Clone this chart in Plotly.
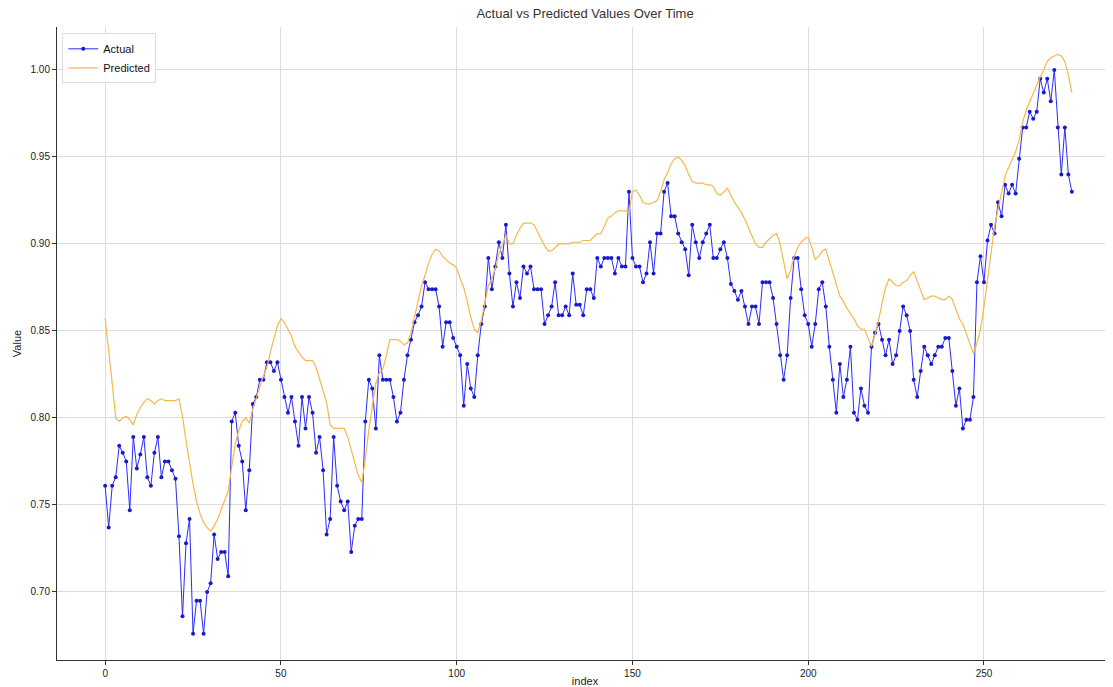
import plotly.graph_objects as go

index = list(range(276))

actual = [
    0.761, 0.737, 0.761, 0.766, 0.784, 0.780, 0.775, 0.747, 0.789, 0.771,
    0.779, 0.789, 0.766, 0.761, 0.780, 0.789, 0.766, 0.775, 0.775, 0.770,
    0.765, 0.732, 0.686, 0.728, 0.742, 0.676, 0.695, 0.695, 0.676, 0.700,
    0.705, 0.733, 0.719, 0.723, 0.723, 0.709, 0.798, 0.803, 0.784, 0.775,
    0.747, 0.770, 0.808, 0.812, 0.822, 0.822, 0.832, 0.832, 0.827, 0.832,
    0.822, 0.812, 0.803, 0.812, 0.798, 0.784, 0.812, 0.794, 0.812, 0.803,
    0.780, 0.789, 0.770, 0.733, 0.742, 0.789, 0.761, 0.752, 0.747, 0.752,
    0.723, 0.738, 0.742, 0.742, 0.798, 0.822, 0.817, 0.794, 0.836, 0.822,
    0.822, 0.822, 0.812, 0.798, 0.803, 0.822, 0.836, 0.845, 0.855, 0.859,
    0.864, 0.878, 0.874, 0.874, 0.874, 0.864, 0.841, 0.855, 0.855, 0.846,
    0.841, 0.836, 0.807, 0.831, 0.817, 0.812, 0.836, 0.854, 0.864, 0.892,
    0.874, 0.887, 0.901, 0.892, 0.911, 0.883, 0.864, 0.878, 0.869, 0.887,
    0.883, 0.887, 0.874, 0.874, 0.874, 0.854, 0.859, 0.864, 0.878, 0.859,
    0.859, 0.864, 0.859, 0.883, 0.865, 0.865, 0.859, 0.874, 0.874, 0.869,
    0.892, 0.887, 0.892, 0.892, 0.892, 0.883, 0.892, 0.887, 0.887, 0.930,
    0.892, 0.887, 0.887, 0.878, 0.883, 0.901, 0.883, 0.906, 0.906, 0.930,
    0.935, 0.916, 0.916, 0.906, 0.901, 0.897, 0.882, 0.911, 0.901, 0.892,
    0.901, 0.906, 0.911, 0.892, 0.892, 0.897, 0.901, 0.892, 0.877, 0.873,
    0.868, 0.873, 0.864, 0.854, 0.864, 0.864, 0.854, 0.878, 0.878, 0.878,
    0.869, 0.854, 0.836, 0.822, 0.836, 0.869, 0.892, 0.892, 0.874, 0.859,
    0.854, 0.841, 0.854, 0.874, 0.878, 0.864, 0.841, 0.822, 0.803, 0.831,
    0.812, 0.822, 0.841, 0.803, 0.799, 0.817, 0.807, 0.803, 0.841, 0.849,
    0.854, 0.845, 0.836, 0.845, 0.831, 0.836, 0.850, 0.864, 0.859, 0.850,
    0.822, 0.812, 0.827, 0.841, 0.836, 0.831, 0.836, 0.841, 0.841, 0.846,
    0.846, 0.827, 0.807, 0.817, 0.794, 0.799, 0.799, 0.812, 0.878, 0.893,
    0.878, 0.902, 0.911, 0.906, 0.924, 0.916, 0.934, 0.929, 0.934, 0.929,
    0.949, 0.967, 0.967, 0.976, 0.972, 0.976, 0.995, 0.987, 0.995, 0.982,
    1.000, 0.967, 0.940, 0.967, 0.940, 0.930,
]

predicted = [
    0.857, 0.840, 0.820, 0.800, 0.798, 0.800, 0.801, 0.799, 0.796, 0.802,
    0.806, 0.809, 0.811, 0.810, 0.808, 0.810, 0.811, 0.810, 0.810, 0.810,
    0.810, 0.811, 0.801, 0.787, 0.774, 0.762, 0.752, 0.745, 0.740, 0.737,
    0.735, 0.738, 0.742, 0.747, 0.752, 0.758, 0.772, 0.785, 0.793, 0.798,
    0.800, 0.797, 0.805, 0.812, 0.818, 0.824, 0.829, 0.838, 0.846, 0.853,
    0.857, 0.855, 0.851, 0.847, 0.841, 0.838, 0.835, 0.833, 0.833, 0.833,
    0.829, 0.822, 0.815, 0.809, 0.796, 0.794, 0.794, 0.794, 0.794, 0.789,
    0.782, 0.775, 0.767, 0.763, 0.776, 0.793, 0.808, 0.820, 0.826, 0.828,
    0.836, 0.845, 0.845, 0.845, 0.844, 0.842, 0.843, 0.849, 0.858, 0.867,
    0.876, 0.882, 0.889, 0.894, 0.897, 0.896, 0.893, 0.891, 0.889, 0.888,
    0.886, 0.880, 0.875, 0.867, 0.858, 0.851, 0.849, 0.856, 0.866, 0.876,
    0.880, 0.886, 0.894, 0.900, 0.905, 0.900, 0.900, 0.905, 0.909, 0.912,
    0.912, 0.912, 0.911, 0.907, 0.903, 0.899, 0.896, 0.896, 0.898, 0.900,
    0.900, 0.900, 0.900, 0.901, 0.901, 0.901, 0.902, 0.902, 0.902, 0.904,
    0.906, 0.906, 0.910, 0.915, 0.916, 0.918, 0.919, 0.919, 0.919, 0.918,
    0.930, 0.931, 0.928, 0.924, 0.923, 0.923, 0.924, 0.925, 0.930, 0.937,
    0.941, 0.946, 0.949, 0.950, 0.948, 0.945, 0.940, 0.936, 0.935, 0.935,
    0.935, 0.934, 0.934, 0.933, 0.929, 0.928, 0.930, 0.932, 0.928, 0.924,
    0.921, 0.918, 0.914, 0.909, 0.904, 0.900, 0.898, 0.898, 0.901, 0.903,
    0.905, 0.906, 0.900, 0.890, 0.880, 0.885, 0.893, 0.898, 0.901, 0.903,
    0.904, 0.898, 0.891, 0.893, 0.896, 0.897, 0.890, 0.883, 0.876, 0.870,
    0.867, 0.863, 0.860, 0.857, 0.853, 0.851, 0.851, 0.846, 0.841, 0.848,
    0.856, 0.866, 0.875, 0.880, 0.878, 0.876, 0.876, 0.878, 0.879, 0.882,
    0.884, 0.879, 0.873, 0.868, 0.869, 0.870, 0.870, 0.869, 0.868, 0.868,
    0.870, 0.868, 0.862, 0.857, 0.854, 0.848, 0.842, 0.837, 0.843, 0.851,
    0.864, 0.880, 0.896, 0.910, 0.920, 0.930, 0.939, 0.944, 0.949, 0.953,
    0.960, 0.970, 0.977, 0.982, 0.987, 0.992, 0.996, 1.000, 1.005, 1.007,
    1.008, 1.009, 1.008, 1.005, 0.997, 0.987,
]

x_ticks = [0, 50, 100, 150, 200, 250]
y_ticks = [0.70, 0.75, 0.80, 0.85, 0.90, 0.95, 1.00]
y_tick_labels = ["0.70", "0.75", "0.80", "0.85", "0.90", "0.95", "1.00"]

FONT = "Liberation Sans, Arial, sans-serif"

fig = go.Figure()
fig.add_trace(go.Scatter(
    x=index, y=actual, name="Actual", mode="lines+markers",
    line=dict(color="#2a2aff", width=1),
    marker=dict(color="#1a1acc", size=4),
))
fig.add_trace(go.Scatter(
    x=index, y=predicted, name="Predicted", mode="lines",
    line=dict(color="#f7b84a", width=1.2),
))

# page body has an 8px margin, so the figure is offset by (8, 8)
fig.update_layout(
    width=1105, height=679,
    margin=dict(l=49, r=0, t=19, b=27, autoexpand=False),
    paper_bgcolor="white", plot_bgcolor="white",
    font=dict(family=FONT, color="#222222", size=10),
    title=dict(text="Actual vs Predicted Values Over Time",
               xref="container", x=0.5222, xanchor="center",
               yref="container", y=0.999, yanchor="top", automargin=False,
               pad=dict(t=0, b=0),
               font=dict(size=13, color="#333333")),
    showlegend=True,
    legend=dict(x=0.005, y=0.99, xanchor="left", yanchor="top",
                bgcolor="rgba(255,255,255,0.85)", bordercolor="#dddddd", borderwidth=1,
                font=dict(size=11, color="#111111", family=FONT),
                itemwidth=30, tracegroupgap=0),
)
fig.update_xaxes(
    range=[-13.7, 286.7], tickvals=x_ticks, automargin=False,
    showgrid=True, gridcolor="#dcdcdc", gridwidth=1, zeroline=False,
    showline=True, linecolor="#333333", linewidth=1,
    ticks="outside", ticklen=4, tickcolor="#333333",
    tickfont=dict(size=10, color="#222222"),
    title=dict(text="index", font=dict(size=11), standoff=2),
)
fig.update_yaxes(
    range=[0.6609, 1.0247], tickvals=y_ticks, ticktext=y_tick_labels, automargin=False,
    showgrid=True, gridcolor="#dcdcdc", gridwidth=1, zeroline=False,
    showline=True, linecolor="#333333", linewidth=1,
    ticks="outside", ticklen=4, tickcolor="#333333",
    tickfont=dict(size=10, color="#222222"),
    title=dict(text="Value", font=dict(size=11), standoff=6),
)

fig.write_html("out.html")
